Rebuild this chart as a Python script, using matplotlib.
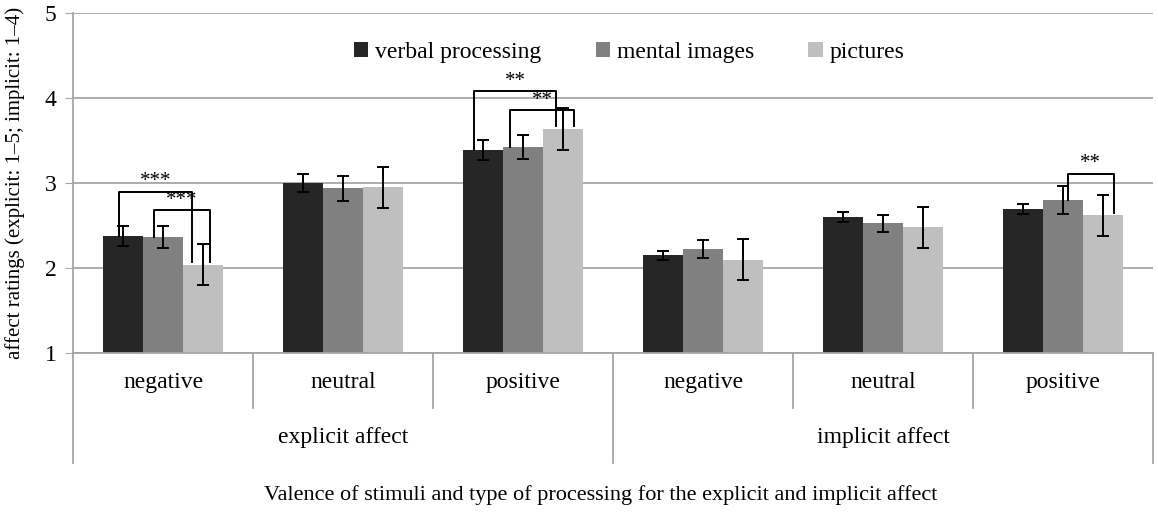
import numpy as np
import matplotlib.pyplot as plt

plt.rcParams['font.family'] = ['Liberation Serif', 'DejaVu Serif']

# Daten
valences = ['negative', 'neutral', 'positive', 'negative', 'neutral', 'positive']
affect_types = ['explicit affect', 'implicit affect']
series = ['verbal processing', 'mental images', 'pictures']

verbal = [2.38, 3.00, 3.39, 2.15, 2.60, 2.70]
mental = [2.37, 2.94, 3.43, 2.22, 2.53, 2.80]
pictures = [2.04, 2.95, 3.64, 2.10, 2.48, 2.62]

verbal_err = [0.12, 0.105, 0.115, 0.055, 0.06, 0.06]
mental_err = [0.13, 0.145, 0.14, 0.105, 0.10, 0.165]
pictures_err = [0.245, 0.245, 0.245, 0.245, 0.245, 0.245]

# Signifikanz: (gruppe, balken a, balken b, hoehe, sterne)
sig_group = [0, 0, 2, 2, 5]
sig_a = [0, 1, 0, 1, 1]
sig_b = [2, 2, 2, 2, 2]
sig_top = [2.90, 2.68, 4.08, 3.86, 3.11]
sig_label = ['***', '***', '**', '**', '**']

colors = ['#262626', '#808080', '#bfbfbf']
grid_col = '#a6a6a6'

fig = plt.figure(figsize=(11.58, 5.15), dpi=100)
ax = fig.add_axes([73 / 1158, 1 - 353 / 515, 1080 / 1158, 339.7 / 515])

x = np.arange(len(valences)) + 0.5
w = 0.221
offsets = [-w, 0, w]
values = [verbal, mental, pictures]
errors = [verbal_err, mental_err, pictures_err]

for i in range(3):
    ax.bar(x + offsets[i], np.array(values[i]) - 1, bottom=1, width=w,
           color=colors[i], label=series[i], zorder=2)
    ax.errorbar(x + offsets[i], values[i], yerr=errors[i], fmt='none',
                ecolor='black', elinewidth=1.4, capsize=4, capthick=1.4, zorder=3)

# Klammern fuer Signifikanzen
leg_off = [(-0.026, -0.06), (-0.05, 0.038), (-0.05, -0.035), (-0.07, 0.065), (0.026, 0.06)]
for k in range(len(sig_group)):
    g = sig_group[k]
    a, b = sig_a[k], sig_b[k]
    xa = x[g] + offsets[a] + leg_off[k][0]
    xb = x[g] + offsets[b] + leg_off[k][1]
    ya = values[a][g]
    yb = values[b][g] + 0.03
    ax.plot([xa, xa, xb, xb], [ya, sig_top[k], sig_top[k], yb],
            color='black', lw=1.4, zorder=4)
    ax.text((xa + xb) / 2, sig_top[k] + 0.005, sig_label[k], ha='center',
            va='bottom', fontsize=15)

ax.set_xlim(0, len(valences))
ax.set_ylim(1, 5)
ax.set_yticks([1, 2, 3, 4, 5])
ax.yaxis.grid(True, color=grid_col, lw=1.3, zorder=0)
ax.set_axisbelow(True)
ax.tick_params(axis='y', length=6, color=grid_col, labelsize=17, pad=6)
ax.set_xticks([])
for s in ['top', 'right']:
    ax.spines[s].set_visible(False)
for s in ['left', 'bottom']:
    ax.spines[s].set_color(grid_col)
    ax.spines[s].set_linewidth(1.3)

# Kategorien unten
tr = ax.get_xaxis_transform()
for i in range(1, len(valences)):
    depth = -0.324 if i == 3 else -0.162
    ax.plot([i, i], [0, depth], color=grid_col, lw=1.3, transform=tr, clip_on=False)
for xe in [0, len(valences)]:
    ax.plot([xe, xe], [0, -0.324], color=grid_col, lw=1.3, transform=tr, clip_on=False)
for i, lab in enumerate(valences):
    ax.text(x[i], -0.088, lab, transform=tr, ha='center', va='center', fontsize=17)
for j, lab in enumerate(affect_types):
    ax.text(1.5 + 3 * j, -0.25, lab, transform=tr, ha='center', va='center', fontsize=17)

ax.text(2.93, -0.418, 'Valence of stimuli and type of processing for the explicit and implicit affect',
        transform=tr, ha='center', va='center', fontsize=16)
ax.set_ylabel('affect ratings (explicit: 1\u20135; implicit: 1\u20134)', fontsize=15)
ax.yaxis.label.set(ha='center', va='center')
ax.yaxis.set_label_coords(-0.054, 0.5)

ax.legend(loc='center', bbox_to_anchor=(0.515, 0.886), ncol=3, frameon=False,
          fontsize=17, handlelength=0.6, handleheight=0.6, handletextpad=0.3,
          columnspacing=2.3)

fig.savefig('out.png', dpi=100)
